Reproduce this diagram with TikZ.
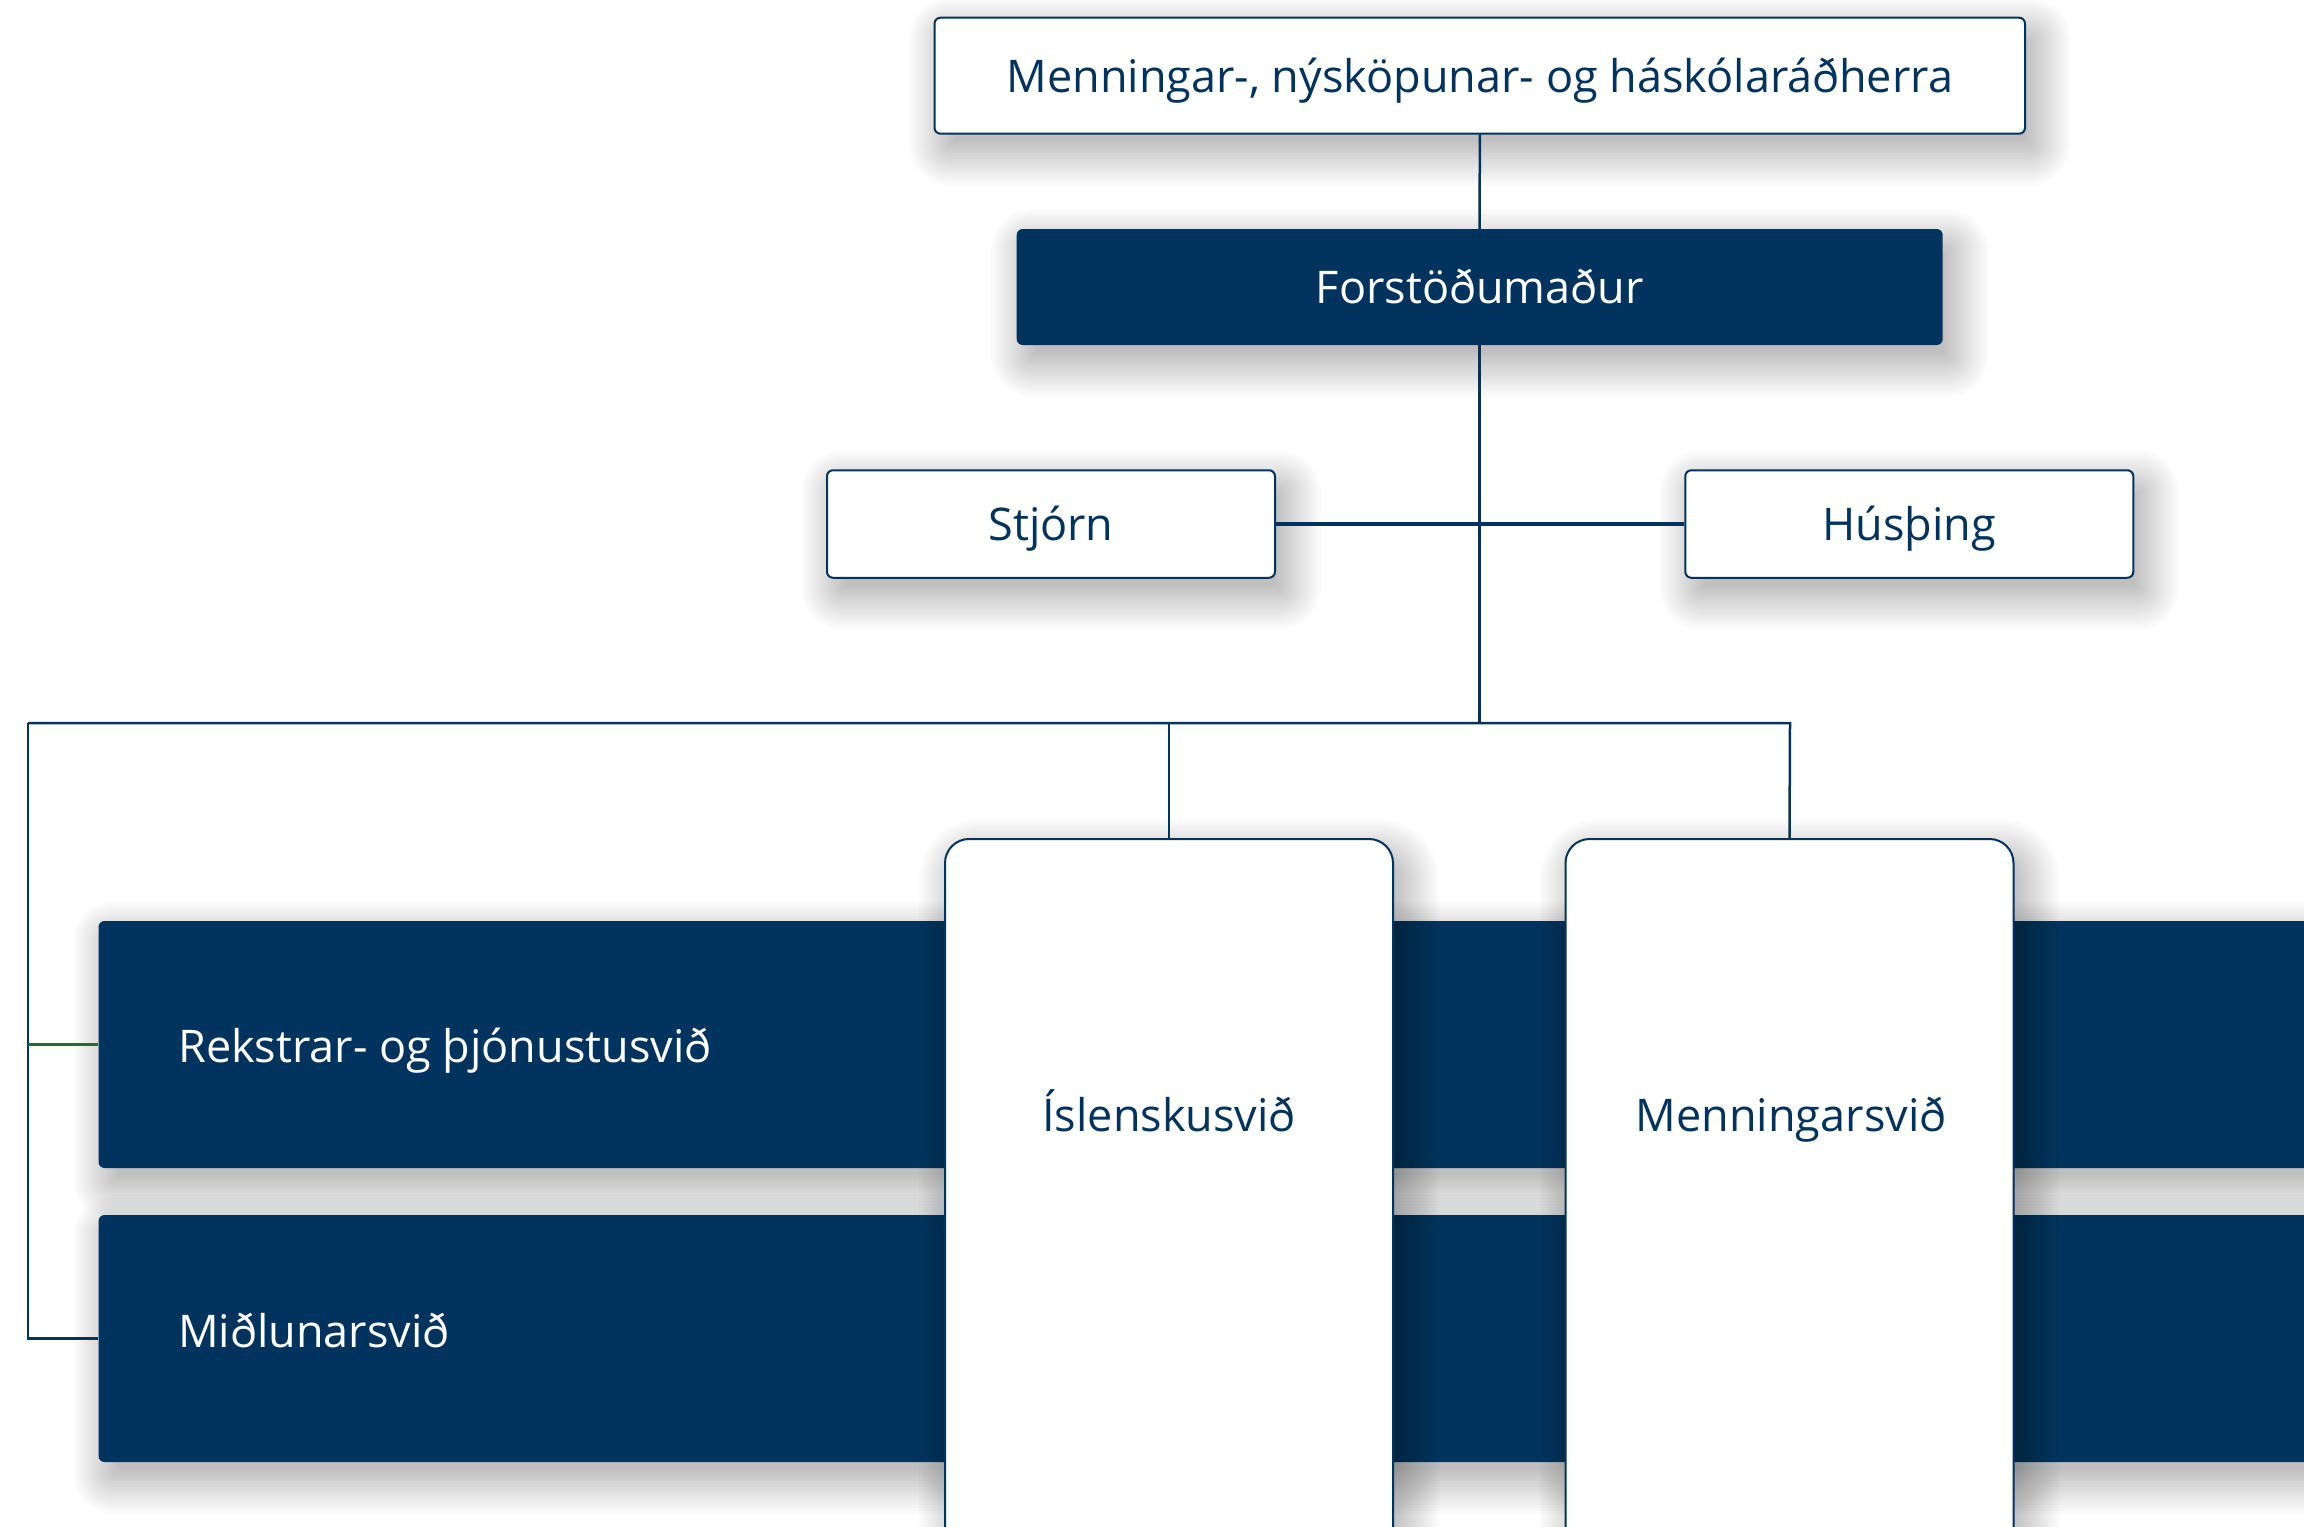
\documentclass[tikz,border=0pt]{standalone}
\usepackage{fontspec}
\setmainfont{Open Sans}
\definecolor{navy}{RGB}{0,52,94}
\definecolor{linkgreen}{RGB}{30,110,60}
\newcommand\softshadow[5]{%
  \foreach \k in {1,...,16}{%
    \pgfmathsetmacro\ee{-12+3*\k}%
    \pgfmathsetmacro\rr{max(#5+\ee,1)}%
    \fill[black, opacity=0.015, rounded corners=\rr pt] ({#1+10-\ee},{#2+16-\ee}) rectangle ({#3+10+\ee},{#4+16+\ee});
  }}
\begin{document}
\begin{tikzpicture}[x=1pt,y=-1pt,
  txt/.style={font=\fontsize{45}{54}\selectfont, inner sep=0pt},
  boxtxt/.style={txt, text height=33pt, text depth=0pt},
  lightbox/.style={draw=navy, line width=2pt, fill=white, text=navy, rounded corners=6pt, inner sep=0pt, boxtxt},
  darkbox/.style={fill=navy, text=white, rounded corners=6pt, inner sep=0pt, boxtxt},
  tallbox/.style={draw=navy, line width=2pt, fill=white, rounded corners=24pt, inner sep=0pt},
  conn/.style={draw=navy, line width=2.5pt}]
\useasboundingbox (0,0) rectangle (2304,1526);
\clip (0,0) rectangle (2304,1526);
\fill[white] (0,0) rectangle (2304,1526);

\coordinate (busL) at (28,723);
\coordinate (busR) at (1790,723);
\coordinate (busC) at (1479.7,723);

% dark bars
\softshadow{98.5}{921}{2350}{1168}{6}
\softshadow{98.5}{1215}{2350}{1462}{6}
\node[darkbox, minimum width=2251.5pt, minimum height=247pt] (rek) at (1224.25,1044.5) {};
\node[darkbox, minimum width=2251.5pt, minimum height=247pt] (mid) at (1224.25,1338.5) {};
\node[txt, text=white, anchor=base west] (rekT) at (178,1062) {Rekstrar- og þjónustusvið};
\node[txt, text=white, anchor=base west] (midT) at (178,1347) {Miðlunarsvið};

% tall boxes
\softshadow{945}{839}{1393}{1580}{24}
\softshadow{1565.5}{839}{2013.5}{1580}{24}
\node[tallbox, minimum width=448pt, minimum height=741pt] (isl) at (1169,1209.5) {};
\node[tallbox, minimum width=448pt, minimum height=741pt] (menn) at (1789.5,1209.5) {};
\node[txt, text=navy, anchor=base] (islT) at (1169,1131) {Íslenskusvið};
\node[txt, text=navy, anchor=base] (mennT) at (1791,1131) {Menningarsvið};

% connectors
\draw[conn] (busL) -- (busR) -- (menn.north);
\draw[conn] (isl.north |- busL) -- (isl.north);
\draw[conn] (busL) -- (mid.west -| busL) -- (mid.west);
\draw[conn, draw=linkgreen] (rek.west -| busL) -- (rek.west);

% top boxes
\softshadow{934.5}{17.7}{2025}{133.7}{6}
\softshadow{1016.7}{229}{1942.7}{345}{6}
\softshadow{827}{470.25}{1275}{577.75}{6}
\softshadow{1685.3}{470.25}{2133.3}{577.75}{6}
\node[lightbox, minimum width=1090.5pt, minimum height=116pt] (top) at (1479.75,75.7) {Menningar-, nýsköpunar- og háskólaráðherra};
\node[darkbox, minimum width=926pt, minimum height=116pt] (forst) at (1479.7,287) {Forstöðumaður};
\node[lightbox, minimum width=448pt, minimum height=107.5pt] (stjorn) at (1051,524) {Stjórn};
\node[lightbox, minimum width=448pt, minimum height=107.5pt] (hus) at (1909.3,524) {Húsþing};

\draw[conn] (top.south) -- (forst.north);
\draw[conn] (forst.south) -- (busC);
\draw[conn, line width=4pt] (stjorn.east) -- (hus.west);
\end{tikzpicture}
\end{document}
